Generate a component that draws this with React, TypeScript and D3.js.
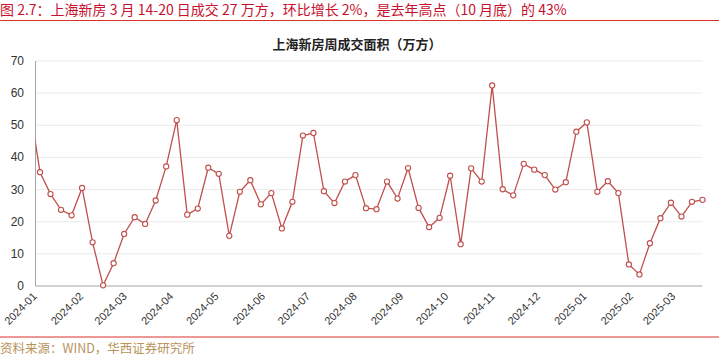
import React from "react";
import * as d3 from "d3";

const startDate = "2023-12-28";
const values: number[] = [
  56.4, 35.4, 28.6, 23.7, 22.0, 30.5, 13.6, 0.2, 7.1, 16.2, 21.4, 19.3, 26.6, 37.2, 51.6, 22.2,
  24.1, 36.8, 34.9, 15.6, 29.3, 32.9, 25.4, 28.9, 17.9, 26.2, 46.8, 47.6, 29.5, 25.8, 32.5, 34.5,
  24.2, 23.9, 32.5, 27.2, 36.7, 24.3, 18.3, 21.2, 34.3, 13.0, 36.6, 32.5, 62.4, 30.1, 28.2, 38.0,
  36.2, 34.5, 30.0, 32.3, 48.0, 50.9, 29.3, 32.6, 28.9, 6.7, 3.6, 13.3, 21.1, 25.9, 21.6, 26.2, 26.8,
];
const yTicks = [0, 10, 20, 30, 40, 50, 60, 70];
const monthTicks = [
  "2024-01", "2024-02", "2024-03", "2024-04", "2024-05", "2024-06", "2024-07", "2024-08",
  "2024-09", "2024-10", "2024-11", "2024-12", "2025-01", "2025-02", "2025-03",
];
const headline = "图 2.7：上海新房 3 月 14-20 日成交 27 万方，环比增长 2%，是去年高点（10 月底）的 43%";
const chartTitle = "上海新房周成交面积（万方）";
const source = "资料来源：WIND，华西证券研究所";

const W = 719;
const H = 356;
const left = 35.5;
const right = 702.5;
const top = 61;
const bottom = 286;

const parse = d3.utcParse("%Y-%m-%d");
const parseM = d3.utcParse("%Y-%m");

export default function App() {
  const t0 = parse(startDate)!;
  const data = values.map((v, i) => ({ d: d3.utcDay.offset(t0, i * 7), v }));
  const x = d3
    .scaleUtc()
    .domain([parse("2024-01-01")!, parse("2025-03-20")!])
    .range([left, right]);
  const y = d3.scaleLinear().domain([0, 70]).range([bottom, top]);
  const line = d3
    .line<{ d: Date; v: number }>()
    .x((p) => x(p.d))
    .y((p) => y(p.v));
  const color = "#c0504d";
  const sans = "Liberation Sans, Arial, 'Noto Sans CJK SC', sans-serif";
  const cjk = "'Noto Sans CJK SC', sans-serif";
  return (
    <svg
      width={W}
      height={H}
      style={{ position: "absolute", left: 0, top: 0, background: "#fff" }}
    >
      <defs>
        <clipPath id="plot">
          <rect x={left} y={top - 10} width={right - left + 10} height={bottom - top + 20} />
        </clipPath>
      </defs>
      <text x={0} y={14.5} fontSize={14} fill="#c8102e" fontFamily={cjk}>
        {headline}
      </text>
      <line x1={0} x2={W} y1={20.5} y2={20.5} stroke="#d9302c" strokeWidth={1} />
      <text
        x={357}
        y={49}
        fontSize={13}
        fontWeight="bold"
        fill="#222"
        textAnchor="middle"
        fontFamily={cjk}
      >
        {chartTitle}
      </text>
      {yTicks.map((t) => (
        <g key={t}>
          {t > 0 && (
            <line x1={left} x2={right} y1={y(t)} y2={y(t)} stroke="#ebebeb" strokeWidth={1} />
          )}
          <text
            x={24}
            y={y(t) + 4}
            fontSize={12}
            textAnchor="end"
            fill="#333"
            fontFamily={sans}
          >
            {t}
          </text>
        </g>
      ))}
      <line x1={left} x2={left} y1={top} y2={bottom} stroke="#a6a6a6" />
      <line x1={left} x2={right} y1={bottom} y2={bottom} stroke="#a6a6a6" />
      {monthTicks.map((m) => {
        const px = x(parseM(m)!);
        return (
          <text
            key={m}
            transform={`translate(${px + 2},${bottom + 11}) rotate(-45)`}
            fontSize={11}
            textAnchor="end"
            fill="#333"
            fontFamily={sans}
          >
            {m}
          </text>
        );
      })}
      <g clipPath="url(#plot)">
        <path d={line(data) || ""} fill="none" stroke={color} strokeWidth={1.3} />
        {data
          .filter((p) => x(p.d) >= left)
          .map((p, i) => (
            <circle
              key={i}
              cx={x(p.d)}
              cy={y(p.v)}
              r={2.6}
              fill="#fff"
              stroke={color}
              strokeWidth={1.1}
            />
          ))}
      </g>
      <line x1={0} x2={W} y1={337} y2={337} stroke="#d9302c" strokeWidth={1} />
      <text x={0} y={352.5} fontSize={12.5} fill="#b8935a" fontFamily={cjk}>
        {source}
      </text>
    </svg>
  );
}
